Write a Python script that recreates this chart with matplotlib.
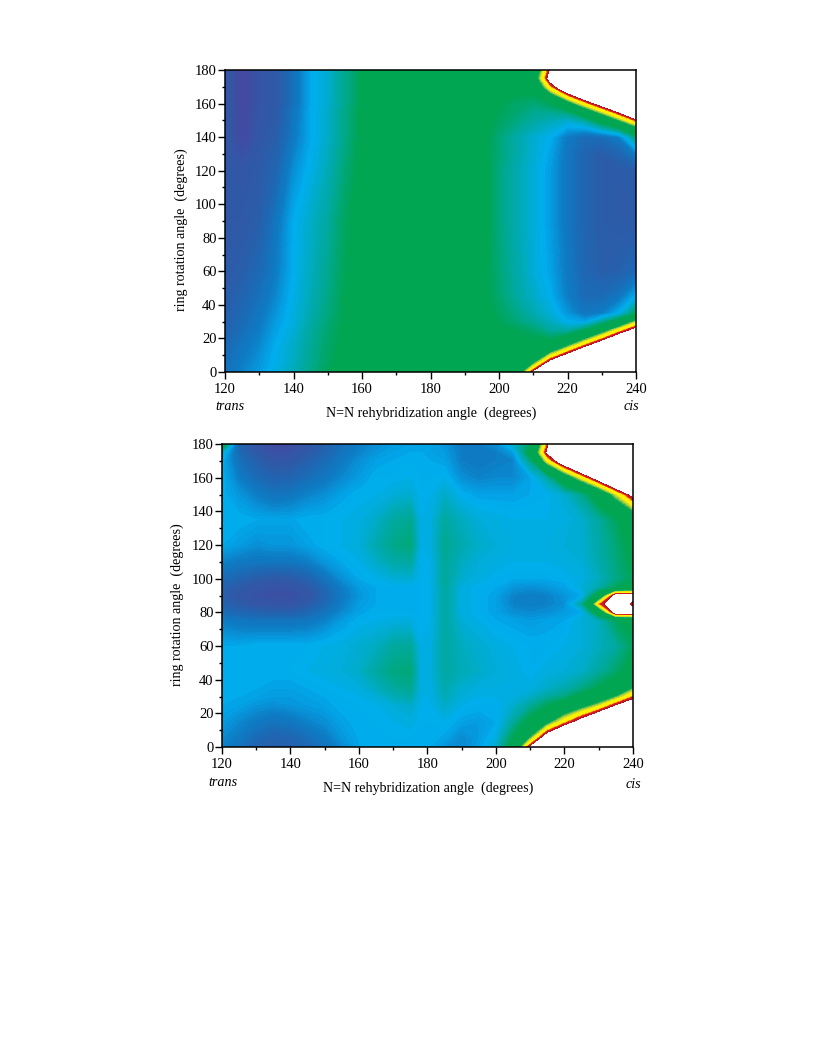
import numpy as np
import matplotlib
matplotlib.use('Agg')
import matplotlib.pyplot as plt
from matplotlib.colors import LinearSegmentedColormap

plt.rcParams['font.family'] = ['Liberation Serif', 'DejaVu Serif']

W, H = 816, 1056

# upper map, one row per ring angle
top_x = [120, 125, 130, 135, 140, 145, 150, 155, 160, 170, 180, 190, 195, 200, 205, 210, 215, 220, 225, 230, 235, 240]
top_y = [0, 5, 15, 25, 30, 35, 45, 60, 90, 120, 130, 140, 150, 155, 160, 170, 175, 180]
top_energy = [
    [2.8, 3.3, 3.7, 4.2, 4.7, 5.3, 5.9, 6.2, 6.5, 6.8, 6.6, 6.4, 6.3, 6.1, 6.7, 10.0, 12.6, 14.2, 15.8, 17.3, 18.9, 20.4],
    [2.7, 3.2, 3.6, 4.1, 4.6, 5.2, 5.8, 6.2, 6.5, 6.7, 6.6, 6.4, 6.3, 6.1, 6.4, 8.0, 10.6, 12.2, 13.8, 15.3, 16.9, 18.4],
    [2.5, 3.0, 3.4, 4.0, 4.5, 5.1, 5.7, 6.1, 6.5, 6.6, 6.5, 6.4, 6.3, 6.1, 6.2, 6.4, 6.6, 8.2, 9.8, 11.3, 12.9, 14.4],
    [2.2, 2.7, 3.2, 3.8, 4.3, 5.0, 5.6, 6.1, 6.4, 6.5, 6.5, 6.4, 6.2, 6.0, 5.9, 5.6, 5.0, 4.8, 5.8, 7.3, 8.9, 10.4],
    [2.1, 2.6, 3.1, 3.7, 4.2, 4.9, 5.5, 6.0, 6.4, 6.5, 6.5, 6.4, 6.2, 5.9, 5.5, 5.1, 4.6, 4.0, 3.8, 5.0, 6.6, 8.4],
    [2.0, 2.5, 3.0, 3.6, 4.2, 4.8, 5.4, 6.0, 6.4, 6.5, 6.5, 6.4, 6.2, 5.8, 5.3, 4.8, 4.3, 3.6, 3.0, 3.2, 4.0, 5.8],
    [1.9, 2.3, 2.8, 3.4, 4.1, 4.7, 5.3, 6.0, 6.4, 6.5, 6.4, 6.4, 6.2, 5.6, 5.0, 4.5, 4.0, 3.2, 2.6, 2.6, 3.0, 4.0],
    [1.8, 2.0, 2.5, 3.2, 4.0, 4.6, 5.2, 5.9, 6.3, 6.4, 6.4, 6.4, 6.2, 5.5, 4.9, 4.3, 3.8, 3.1, 2.4, 2.0, 2.1, 2.6],
    [1.7, 1.7, 2.0, 3.0, 3.95, 4.5, 5.0, 5.8, 6.3, 6.4, 6.4, 6.4, 6.2, 5.4, 4.8, 4.3, 3.7, 3.0, 2.3, 1.9, 1.8, 1.8],
    [1.7, 1.5, 1.8, 2.4, 3.5, 4.1, 4.7, 5.5, 6.2, 6.4, 6.4, 6.4, 6.2, 5.4, 4.8, 4.3, 3.7, 3.0, 2.3, 1.9, 1.8, 1.9],
    [1.7, 1.0, 1.7, 2.2, 3.3, 4.0, 4.6, 5.4, 6.2, 6.4, 6.4, 6.4, 6.2, 5.5, 4.9, 4.4, 3.8, 3.0, 2.3, 1.9, 2.3, 3.2],
    [1.7, 0.5, 1.5, 2.0, 3.1, 3.9, 4.5, 5.3, 6.1, 6.4, 6.4, 6.4, 6.2, 5.5, 4.9, 4.4, 4.0, 3.1, 2.6, 2.7, 3.2, 5.4],
    [1.7, 0.4, 1.4, 1.8, 3.0, 3.9, 4.5, 5.3, 6.1, 6.4, 6.4, 6.4, 6.2, 5.8, 5.4, 5.0, 4.7, 4.4, 5.0, 6.5, 8.0, 9.6],
    [1.7, 0.4, 1.4, 1.8, 3.0, 3.9, 4.5, 5.3, 6.1, 6.4, 6.4, 6.4, 6.2, 5.9, 5.6, 5.2, 5.2, 5.5, 7.0, 8.5, 10.0, 11.6],
    [1.7, 0.3, 1.3, 1.7, 2.8, 3.9, 4.4, 5.2, 6.0, 6.4, 6.4, 6.4, 6.2, 6.0, 5.7, 5.5, 5.9, 7.4, 9.0, 10.5, 12.0, 13.6],
    [1.7, 0.3, 1.3, 1.7, 2.8, 3.9, 4.4, 5.2, 6.0, 6.4, 6.4, 6.4, 6.2, 6.2, 6.2, 6.3, 9.2, 11.4, 13.0, 14.5, 16.0, 17.6],
    [1.7, 0.3, 1.3, 1.7, 2.8, 3.9, 4.4, 5.2, 6.0, 6.4, 6.4, 6.4, 6.3, 6.3, 6.3, 7.0, 10.5, 13.4, 15.0, 16.5, 18.0, 19.6],
    [1.7, 0.3, 1.3, 1.7, 2.8, 3.9, 4.4, 5.2, 6.0, 6.4, 6.4, 6.4, 6.3, 6.3, 6.3, 6.5, 10.0, 15.4, 17.0, 18.5, 20.0, 21.6],
]

# lower map, one row per rehybridization angle
low_x = [120, 125, 130, 135, 140, 145, 150, 155, 160, 165, 170, 175, 178, 181, 185, 190, 195, 200, 205, 210, 215, 220, 225, 230, 235, 240]
low_y = [0, 5, 15, 25, 30, 35, 45, 60, 75, 80, 85, 90, 95, 100, 110, 120, 135, 150, 160, 170, 175, 180]
low_energy = [
    [3.3, 3.4, 3.7, 3.9, 4.0, 4.0, 4.0, 3.9, 3.2, 2.6, 2.2, 2.0, 2.2, 2.6, 3.3, 3.9, 4.0, 4.0, 4.0, 4.0, 4.4, 7.0],
    [2.9, 3.1, 3.4, 3.8, 3.9, 4.0, 4.0, 3.9, 3.0, 2.4, 1.8, 1.5, 1.8, 2.3, 3.1, 3.7, 4.0, 3.6, 3.2, 2.8, 2.5, 2.2],
    [2.3, 2.5, 3.1, 3.6, 3.8, 3.9, 4.0, 4.0, 2.9, 2.2, 1.4, 1.1, 1.4, 1.9, 3.0, 3.5, 3.9, 3.2, 2.6, 2.1, 1.7, 1.3],
    [2.0, 2.2, 2.9, 3.5, 3.7, 3.8, 4.0, 4.0, 2.9, 2.1, 1.3, 1.0, 1.2, 1.7, 3.0, 3.6, 3.85, 2.9, 2.2, 1.5, 1.0, 0.6],
    [2.1, 2.3, 3.0, 3.6, 3.7, 3.8, 4.0, 4.0, 2.9, 2.1, 1.3, 1.0, 1.2, 1.8, 3.0, 3.6, 3.85, 3.0, 2.3, 1.6, 1.1, 0.8],
    [2.5, 2.7, 3.3, 3.7, 3.8, 3.9, 4.1, 4.0, 3.0, 2.4, 1.8, 1.4, 1.7, 2.2, 3.2, 3.8, 4.0, 3.3, 2.7, 2.1, 1.7, 1.5],
    [2.9, 3.1, 3.5, 3.8, 3.9, 4.0, 4.2, 4.1, 3.3, 2.9, 2.5, 2.3, 2.5, 2.9, 3.6, 4.0, 4.0, 3.5, 3.0, 2.6, 2.3, 2.1],
    [3.4, 3.6, 3.8, 4.0, 4.0, 4.1, 4.3, 4.2, 3.7, 3.4, 3.2, 3.1, 3.2, 3.5, 3.9, 4.1, 4.1, 3.8, 3.4, 3.1, 2.9, 2.7],
    [3.9, 3.9, 4.0, 4.0, 4.1, 4.2, 4.5, 4.4, 4.0, 3.8, 3.7, 3.6, 3.7, 3.9, 4.1, 4.3, 4.2, 4.0, 3.7, 3.5, 3.3, 3.2],
    [4.0, 4.0, 4.0, 4.1, 4.3, 4.6, 5.0, 4.6, 4.1, 4.0, 3.9, 3.9, 3.9, 4.1, 4.5, 4.8, 4.5, 4.1, 4.0, 3.8, 3.6, 3.5],
    [4.0, 4.0, 4.1, 4.3, 4.7, 5.0, 5.4, 5.0, 4.2, 4.0, 4.0, 4.0, 4.0, 4.3, 4.9, 5.3, 5.0, 4.3, 4.0, 3.9, 3.8, 3.7],
    [4.0, 4.0, 4.2, 4.5, 4.9, 5.2, 5.5, 5.1, 4.2, 4.0, 4.0, 4.0, 4.0, 4.4, 5.0, 5.5, 5.2, 4.4, 4.1, 4.0, 3.9, 3.8],
    [4.0, 4.0, 4.0, 4.1, 4.1, 4.2, 4.2, 4.1, 4.0, 4.0, 4.0, 4.0, 4.0, 4.0, 4.0, 4.1, 4.1, 4.0, 4.0, 4.0, 3.9, 3.9],
    [3.9, 4.0, 4.0, 4.1, 4.1, 4.2, 4.2, 4.2, 4.1, 4.1, 4.1, 4.1, 4.1, 4.1, 4.1, 4.2, 4.2, 4.1, 4.0, 3.9, 3.8, 3.8],
    [3.6, 3.8, 4.1, 4.5, 4.7, 4.8, 5.0, 5.0, 5.0, 5.0, 5.0, 5.0, 5.0, 5.1, 5.1, 5.2, 5.0, 4.5, 4.1, 3.8, 3.7, 3.6],
    [3.4, 3.4, 3.8, 4.1, 4.3, 4.4, 4.7, 4.6, 4.3, 4.2, 4.2, 4.2, 4.2, 4.4, 4.6, 4.8, 4.6, 4.0, 3.5, 3.2, 3.2, 3.1],
    [3.8, 3.7, 3.7, 4.0, 4.1, 4.2, 4.5, 4.4, 4.1, 4.0, 4.0, 4.0, 4.0, 4.2, 4.3, 4.5, 4.3, 3.8, 3.3, 3.1, 3.1, 3.2],
    [4.4, 4.2, 3.9, 4.0, 4.1, 4.2, 4.3, 4.2, 3.9, 3.8, 3.8, 3.8, 3.9, 4.0, 4.2, 4.3, 4.2, 3.8, 3.4, 3.2, 3.2, 3.5],
    [6.5, 6.0, 5.0, 4.4, 4.2, 4.1, 4.2, 4.1, 3.8, 3.5, 3.3, 3.3, 3.6, 3.9, 4.1, 4.2, 4.1, 3.8, 3.4, 3.3, 3.7, 4.5],
    [10.0, 8.2, 6.3, 5.0, 4.5, 4.2, 4.0, 4.0, 3.7, 3.4, 3.2, 3.2, 3.5, 3.9, 4.1, 4.2, 4.1, 3.9, 3.8, 5.3, 6.4, 5.8],
    [12.8, 11.0, 7.6, 5.8, 5.0, 4.5, 4.2, 4.0, 3.8, 3.5, 3.3, 3.3, 3.6, 3.9, 4.1, 4.2, 4.1, 4.0, 4.9, 8.8, 10.1, 9.5],
    [14.4, 12.6, 9.1, 6.6, 5.4, 4.8, 4.3, 4.1, 3.9, 3.7, 3.5, 3.6, 3.8, 4.0, 4.2, 4.3, 4.2, 4.4, 7.0, 11.0, 13.0, 15.0],
    [15.8, 14.0, 10.5, 7.4, 6.2, 5.3, 4.5, 4.3, 4.3, 3.9, 5.0, 3.9, 4.3, 4.2, 4.3, 4.4, 4.4, 5.2, 8.8, 12.8, 14.8, 16.8],
    [17.2, 15.4, 11.9, 8.4, 7.0, 6.0, 5.0, 4.6, 4.6, 6.5, 9.3, 6.5, 4.8, 4.6, 4.8, 4.9, 5.0, 6.6, 10.6, 14.6, 16.6, 18.6],
    [18.5, 16.7, 13.3, 9.8, 8.0, 6.8, 5.6, 5.0, 5.8, 10.5, 11.0, 10.5, 5.8, 5.3, 5.4, 5.5, 5.8, 8.5, 12.5, 16.5, 18.5, 20.5],
    [20.4, 18.4, 14.5, 11.0, 9.4, 8.0, 6.4, 5.8, 6.2, 10.5, 9.6, 10.5, 6.2, 5.9, 6.1, 6.3, 6.8, 10.3, 14.0, 18.0, 20.0, 22.0],
]

band_values = [0.0, 1.0, 1.8, 2.4, 3.2, 4.0, 5.0, 6.0, 8.0, 8.4, 8.8, 9.3, 9.6, 10.0]
band_colors = ['#4a459e', '#3a50a3', '#2d5ba8', '#1f66b2', '#0d7cc4', '#00aeef', '#00a9a0',
               '#00a651', '#00a651', '#a8cf45', '#fff200', '#fff200', '#e01b24', '#b4121f']
cmap = LinearSegmentedColormap.from_list('pes', [(v / 10, c) for v, c in zip(band_values, band_colors)], N=256)
cmap.set_over('white')
levels = np.arange(0, 10.01, 0.1)


def draw_panel(fig, box, x, y, z, ylab_x, xlab, trans, cis):
    left, right, top, bottom = box
    ax = fig.add_axes([left / W, 1 - bottom / H, (right - left) / W, (bottom - top) / H])
    ax.contourf(x, y, np.array(z), levels=levels, cmap=cmap, extend='max')
    ax.set_xlim(120, 240)
    ax.set_ylim(0, 180)
    ax.set_xticks(np.arange(120, 241, 20))
    ax.set_xticks(np.arange(120, 241, 10), minor=True)
    ax.set_yticks(np.arange(0, 181, 20))
    ax.set_yticks(np.arange(0, 181, 10), minor=True)
    ax.tick_params(which='major', direction='out', length=5, width=1, labelsize=10.5, pad=3)
    ax.tick_params(which='minor', direction='out', length=2.5, width=1)
    ax.tick_params(axis='y', which='major', pad=1)
    for s in ax.spines.values():
        s.set_linewidth(1.1)
    fig.text(ylab_x / W, 1 - (top + bottom + 18) / 2 / H, 'ring rotation angle  (degrees)',
             rotation=90, ha='center', va='center', fontsize=10.1)
    fig.text(xlab[0] / W, 1 - xlab[1] / H, 'N=N rehybridization angle  (degrees)',
             ha='center', va='center', fontsize=10.1)
    fig.text(trans[0] / W, 1 - trans[1] / H, 'trans', style='italic', ha='center', va='center', fontsize=10.2)
    fig.text(cis[0] / W, 1 - cis[1] / H, 'cis', style='italic', ha='center', va='center', fontsize=10.2)


fig = plt.figure(figsize=(W / 100, H / 100), dpi=100)
draw_panel(fig, (225, 636, 70, 372), top_x, top_y, top_energy, 181, (431, 413), (230, 406), (631, 406))
draw_panel(fig, (222, 633, 444, 747), low_x, low_y, np.array(low_energy).T, 177, (428, 788), (223, 782), (633, 784))

fig.savefig('out.png', dpi=100)
